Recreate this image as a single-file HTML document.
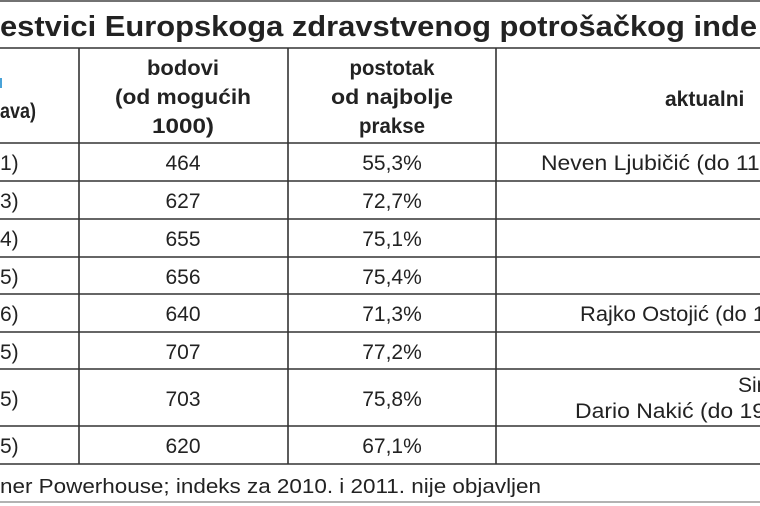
<!DOCTYPE html>
<html><head><meta charset="utf-8"><style>
html,body{margin:0;padding:0;background:#fff;width:760px;height:506px;overflow:hidden}
svg{display:block}
text{font-family:"Liberation Sans",sans-serif;fill:#222}
.b{font-weight:bold}
</style></head><body>
<svg width="760" height="506" viewBox="0 0 760 506">
<line x1="0" y1="1" x2="760" y2="1" stroke="#444" stroke-width="1.5"/>
<text x="0" y="36" class="b" font-size="29" textLength="757" lengthAdjust="spacingAndGlyphs">estvici Europskoga zdravstvenog potrošačkog inde</text>
<g stroke="#333" stroke-width="1.6">
<line x1="0" y1="48" x2="760" y2="48"/>
<line x1="0" y1="143" x2="760" y2="143"/>
<line x1="0" y1="181" x2="760" y2="181"/>
<line x1="0" y1="219" x2="760" y2="219"/>
<line x1="0" y1="257" x2="760" y2="257"/>
<line x1="0" y1="294" x2="760" y2="294"/>
<line x1="0" y1="332" x2="760" y2="332"/>
<line x1="0" y1="369" x2="760" y2="369"/>
<line x1="0" y1="426" x2="760" y2="426"/>
<line x1="0" y1="464" x2="760" y2="464"/>
<line x1="79" y1="48" x2="79" y2="464"/>
<line x1="288" y1="48" x2="288" y2="464"/>
<line x1="496" y1="48" x2="496" y2="464"/>
</g>
<line x1="0" y1="502" x2="760" y2="502" stroke="#999" stroke-width="1.5"/>
<rect x="0" y="78" width="2" height="10" fill="#4aa3d8"/>
<g class="b" font-size="21" text-anchor="middle">
<text x="183" y="75" textLength="72" lengthAdjust="spacingAndGlyphs">bodovi</text>
<text x="183" y="104" textLength="136" lengthAdjust="spacingAndGlyphs">(od mogućih</text>
<text x="183" y="133" textLength="62" lengthAdjust="spacingAndGlyphs">1000)</text>
<text x="392" y="75" textLength="85" lengthAdjust="spacingAndGlyphs">postotak</text>
<text x="392" y="104" textLength="122" lengthAdjust="spacingAndGlyphs">od najbolje</text>
<text x="392" y="133" textLength="66" lengthAdjust="spacingAndGlyphs">prakse</text>
</g>
<text x="0" y="118" class="b" font-size="21" textLength="36" lengthAdjust="spacingAndGlyphs">ava)</text>
<text x="665" y="106" class="b" font-size="21">aktualni</text>
<g font-size="21">
<text x="0" y="170">1)</text>
<text x="0" y="208">3)</text>
<text x="0" y="246">4)</text>
<text x="0" y="284">5)</text>
<text x="0" y="321">6)</text>
<text x="0" y="359">5)</text>
<text x="0" y="406">5)</text>
<text x="0" y="453">5)</text>
</g>
<g font-size="21" text-anchor="middle">
<text x="183" y="170">464</text><text x="392" y="170">55,3%</text>
<text x="183" y="208">627</text><text x="392" y="208">72,7%</text>
<text x="183" y="246">655</text><text x="392" y="246">75,1%</text>
<text x="183" y="284">656</text><text x="392" y="284">75,4%</text>
<text x="183" y="321">640</text><text x="392" y="321">71,3%</text>
<text x="183" y="359">707</text><text x="392" y="359">77,2%</text>
<text x="183" y="406">703</text><text x="392" y="406">75,8%</text>
<text x="183" y="453">620</text><text x="392" y="453">67,1%</text>
</g>
<g font-size="21">
<text x="541" y="170" textLength="225" lengthAdjust="spacingAndGlyphs">Neven Ljubičić (do 11.</text>
<text x="580" y="321" textLength="185" lengthAdjust="spacingAndGlyphs">Rajko Ostojić (do 1</text>
<text x="738" y="392">Sir</text>
<text x="575" y="418" textLength="190" lengthAdjust="spacingAndGlyphs">Dario Nakić (do 19</text>
</g>
<text x="0" y="493" font-size="20" textLength="541" lengthAdjust="spacingAndGlyphs">ner Powerhouse; indeks za 2010. i 2011. nije objavljen</text>
</svg>
</body></html>
